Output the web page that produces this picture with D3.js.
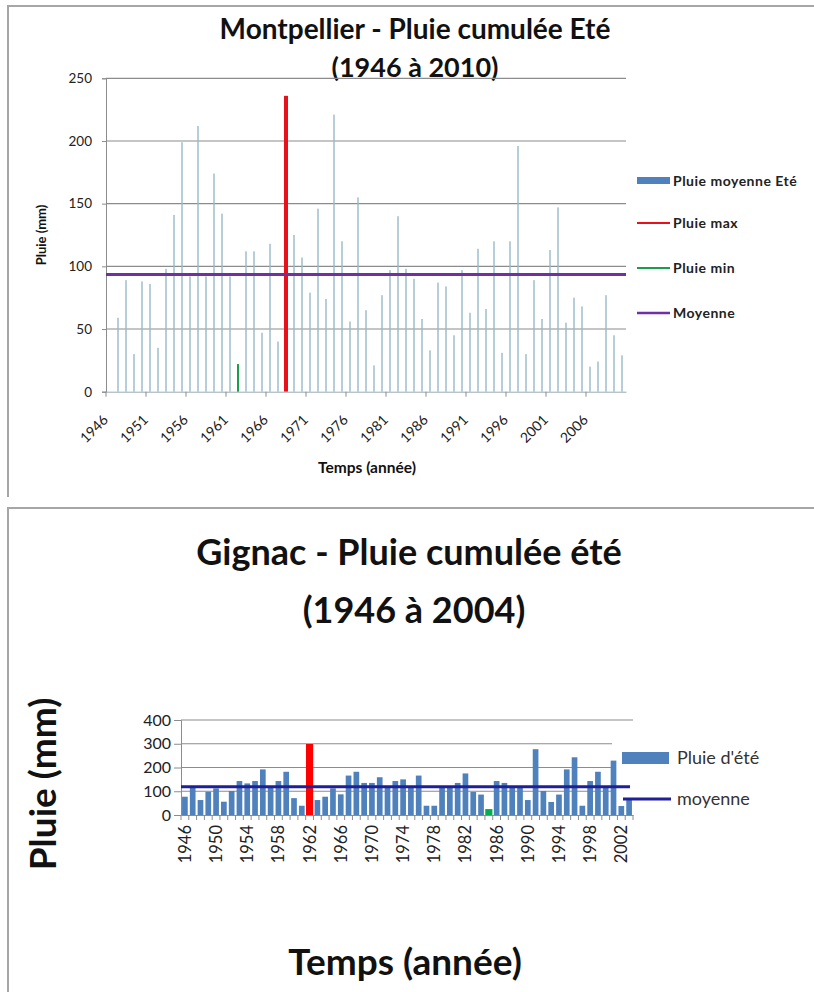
<!DOCTYPE html>
<html><head><meta charset="utf-8">
<script src="https://cdn.jsdelivr.net/npm/d3@7"></script>
<style>
html,body{margin:0;padding:0;background:#fff;}
svg{display:block;}
</style></head><body>
<svg id="chart" width="814" height="992"></svg>
<script>
// ---------- DATA ----------
const yearsTop = d3.range(1946, 2011);
const rainTop = [null,59,89,30,88,86,35,98,141,199,92,212,92,174,142,92,22,112,112,47,118,40,236,125,107,79,146,74,221,120,56,155,65,21,77,97,140,98,90,58,33,87,84,45,97,63,114,66,120,31,120,196,30,89,58,113,147,55,75,68,20,24,77,45,29];
const topMaxYears = [1968];
const topMaxValues = [236];
const topMinYears = [1962];
const topMinValues = [22];
const topMean = 93.5;
const topYTicks = [0, 50, 100, 150, 200, 250];
const topXLabelYears = [1946,1951,1956,1961,1966,1971,1976,1981,1986,1991,1996,2001,2006];
const topLegend = ["Pluie moyenne Eté", "Pluie max", "Pluie min", "Moyenne"];

const yearsGig = d3.range(1946, 2004);
const rainGig = [77,118,63,98,112,56,101,143,133,143,192,118,143,182,71,39,299,63,77,112,87,166,182,135,135,159,118,143,150,118,166,39,39,115,115,135,175,97,86,25,143,135,118,115,63,277,101,55,86,192,243,39,143,182,118,229,38,63];
const gigMean = 119;
const gigYTicks = [0, 100, 200, 300, 400];
const gigXLabelYears = [1946,1950,1954,1958,1962,1966,1970,1974,1978,1982,1986,1990,1994,1998,2002];
const gigLegend = ["Pluie d'été", "moyenne"];

// ---------- SETUP ----------
const FONT = "Lato, 'Open Sans', 'DejaVu Sans', sans-serif";
const svg = d3.select("#chart").style("font-family", FONT);
svg.append("rect").attr("width", 814).attr("height", 992).attr("fill", "#fff");

// frames
svg.append("path").attr("d", "M8,497 L8,6 L814,6").attr("fill", "none").attr("stroke", "#a6a6a6").attr("stroke-width", 2);
svg.append("path").attr("d", "M8,992 L8,508 L814,508").attr("fill", "none").attr("stroke", "#a6a6a6").attr("stroke-width", 2);

// ================= TOP CHART (Montpellier) =================
const tX0 = 106, tX1 = 626, tY0 = 391.7, tY1 = 78.3;
const xTop = d3.scaleBand().domain(yearsTop).range([tX0, tX1]).padding(0);
const yTop = d3.scaleLinear().domain([0, 250]).range([tY0, tY1]);

svg.append("text").attr("x", 415).attr("y", 39).attr("text-anchor", "middle")
  .attr("font-size", 28).attr("font-weight", "bold").attr("fill", "#111")
  .text("Montpellier - Pluie cumulée Eté");
svg.append("text").attr("x", 415).attr("y", 77).attr("text-anchor", "middle")
  .attr("font-size", 27).attr("font-weight", "bold").attr("fill", "#111")
  .text("(1946 à 2010)");

const gT = svg.append("g");
// gridlines
gT.selectAll("line.grid").data(topYTicks.filter(d => d > 0)).join("line")
  .attr("x1", tX0).attr("x2", tX1).attr("y1", d => yTop(d)).attr("y2", d => yTop(d))
  .attr("stroke", "#8c8c8c").attr("stroke-width", 1.2);

// y axis
const yAxT = gT.append("g").attr("transform", `translate(${tX0},0)`)
  .call(d3.axisLeft(yTop).tickValues(topYTicks).tickSize(4).tickPadding(10));
yAxT.select(".domain").attr("stroke", "#8c8c8c");
yAxT.selectAll(".tick line").attr("stroke", "#8c8c8c");
yAxT.selectAll("text").attr("font-size", 13.5).attr("font-family", FONT).attr("fill", "#222");

// bars
const topData = yearsTop.map((y, i) => ({year: y, v: rainTop[i]})).filter(d => d.v != null);
gT.selectAll("rect.bar").data(topData).join("rect")
  .attr("x", d => xTop(d.year) + xTop.bandwidth() / 2 - 0.7)
  .attr("width", 1.4)
  .attr("y", d => yTop(d.v)).attr("height", d => yTop(0) - yTop(d.v))
  .attr("fill", "#96bac6");

// max / min series
gT.selectAll("rect.max").data(topMaxYears.map((y, i) => ({year: y, v: topMaxValues[i]}))).join("rect")
  .attr("x", d => xTop(d.year) + xTop.bandwidth() / 2 - 2)
  .attr("width", 4)
  .attr("y", d => yTop(d.v)).attr("height", d => yTop(0) - yTop(d.v))
  .attr("fill", "#e8101a");
gT.selectAll("rect.min").data(topMinYears.map((y, i) => ({year: y, v: topMinValues[i]}))).join("rect")
  .attr("x", d => xTop(d.year) + xTop.bandwidth() / 2 - 1)
  .attr("width", 2)
  .attr("y", d => yTop(d.v)).attr("height", d => yTop(0) - yTop(d.v))
  .attr("fill", "#1a9e4c");

// mean line
gT.append("line").attr("x1", tX0).attr("x2", tX1)
  .attr("y1", yTop(topMean)).attr("y2", yTop(topMean))
  .attr("stroke", "#7030a0").attr("stroke-width", 3);

// x axis
const xAxT = gT.append("g").attr("transform", `translate(0,${tY0})`)
  .call(d3.axisBottom(xTop).tickValues(topXLabelYears).tickSize(0));
xAxT.select(".domain").attr("stroke", "#9aaab0");
xAxT.selectAll("text")
  .attr("font-size", 14).attr("font-family", FONT).attr("fill", "#222")
  .attr("x", 0).attr("y", 0).attr("dy", null)
  .attr("text-anchor", "end")
  .attr("transform", "translate(-1,29) rotate(-45)");
// boundary tick marks (every 5 categories)
gT.selectAll("line.xt").data(topXLabelYears).join("line")
  .attr("x1", d => xTop(d)).attr("x2", d => xTop(d))
  .attr("y1", tY0).attr("y2", tY0 + 5)
  .attr("stroke", "#8c8c8c");

// axis titles
svg.append("text").attr("transform", `translate(46,${(tY0 + tY1) / 2}) rotate(-90)`)
  .attr("text-anchor", "middle").attr("font-size", 13).attr("font-weight", "bold").attr("fill", "#111")
  .text("Pluie (mm)");
svg.append("text").attr("x", 367).attr("y", 473).attr("text-anchor", "middle")
  .attr("font-size", 15.5).attr("font-weight", "bold").attr("fill", "#111")
  .text("Temps (année)");

// legend
const legT = svg.append("g").attr("transform", "translate(637,0)");
const legTY = [181, 223, 268, 313];
const legTColors = ["#4f81bd", "#e8101a", "#1a9e4c", "#7030a0"];
topLegend.forEach((lab, i) => {
  if (i === 0) {
    legT.append("rect").attr("x", 0).attr("y", legTY[i] - 4).attr("width", 33).attr("height", 7).attr("fill", legTColors[i]);
  } else {
    legT.append("line").attr("x1", 0).attr("x2", 33).attr("y1", legTY[i]).attr("y2", legTY[i])
      .attr("stroke", legTColors[i]).attr("stroke-width", i === 3 ? 2.5 : 2);
  }
  legT.append("text").attr("x", 36).attr("y", legTY[i]).attr("dy", "0.35em")
    .attr("font-size", 14).attr("letter-spacing", 0.5).attr("font-weight", "bold").attr("fill", "#222").text(lab);
});

// ================= BOTTOM CHART (Gignac) =================
const gX0 = 181, gX1 = 633, gY0 = 815, gY1 = 720;
const xGig = d3.scaleBand().domain(yearsGig).range([gX0, gX1]).paddingInner(0.27).paddingOuter(0.135);
const yGig = d3.scaleLinear().domain([0, 400]).range([gY0, gY1]);

svg.append("text").attr("x", 409).attr("y", 565).attr("text-anchor", "middle")
  .attr("font-size", 36).attr("font-weight", "bold").attr("fill", "#111")
  .text("Gignac - Pluie cumulée été");
svg.append("text").attr("x", 414).attr("y", 623).attr("text-anchor", "middle")
  .attr("font-size", 36).attr("font-weight", "bold").attr("fill", "#111")
  .text("(1946 à 2004)");

const gG = svg.append("g");
gG.selectAll("line.grid").data(gigYTicks.filter(d => d > 0)).join("line")
  .attr("x1", gX0).attr("x2", gX1).attr("y1", d => yGig(d)).attr("y2", d => yGig(d))
  .attr("stroke", "#8c8c8c").attr("stroke-width", 1.2);

// legend background (covers gridlines)
gG.append("rect").attr("x", 612).attr("y", 730).attr("width", 200).attr("height", 83).attr("fill", "#fff");

const yAxG = gG.append("g").attr("transform", `translate(${gX0},0)`)
  .call(d3.axisLeft(yGig).tickValues(gigYTicks).tickSize(7).tickPadding(3));
yAxG.select(".domain").attr("stroke", "#8c8c8c");
yAxG.selectAll(".tick line").attr("stroke", "#8c8c8c");
yAxG.selectAll("text").attr("font-size", 16).attr("font-family", FONT).attr("fill", "#222");

const gigData = yearsGig.map((y, i) => ({year: y, v: rainGig[i]}));
const gMax = d3.max(rainGig), gMin = d3.min(rainGig);
const step = xGig.step();
gG.selectAll("rect.bar").data(gigData).join("rect")
  .attr("x", d => (d.v === gMax || d.v === gMin) ? xGig(d.year) + xGig.bandwidth() / 2 - step * 0.46 : xGig(d.year))
  .attr("width", d => (d.v === gMax || d.v === gMin) ? step * 0.92 : xGig.bandwidth())
  .attr("y", d => yGig(d.v)).attr("height", d => yGig(0) - yGig(d.v))
  .attr("fill", d => d.v === gMax ? "#ff0000" : d.v === gMin ? "#00b050" : "#4f81bd");

gG.append("line").attr("x1", gX0).attr("x2", gX1 - 3)
  .attr("y1", yGig(gigMean)).attr("y2", yGig(gigMean))
  .attr("stroke", "#1f1f99").attr("stroke-width", 3);

const xAxG = gG.append("g").attr("transform", `translate(0,${gY0})`)
  .call(d3.axisBottom(xGig).tickValues(gigXLabelYears).tickSize(0));
xAxG.select(".domain").attr("stroke", "#8c8c8c");
xAxG.selectAll("text")
  .attr("font-size", 16.5).attr("font-family", FONT).attr("fill", "#222")
  .attr("x", 0).attr("y", 0).attr("dy", null)
  .attr("text-anchor", "end")
  .attr("transform", "translate(6,10) rotate(-90)");
gG.selectAll("line.xt").data(yearsGig.concat([null])).join("line")
  .attr("x1", (d, i) => gX0 + (gX1 - gX0) * i / yearsGig.length)
  .attr("x2", (d, i) => gX0 + (gX1 - gX0) * i / yearsGig.length)
  .attr("y1", gY0).attr("y2", gY0 + 5)
  .attr("stroke", "#8c8c8c");

svg.append("text").attr("transform", `translate(56,784) rotate(-90)`)
  .attr("text-anchor", "middle").attr("font-size", 37).attr("font-weight", "bold").attr("fill", "#111")
  .text("Pluie (mm)");
svg.append("text").attr("x", 405).attr("y", 975).attr("text-anchor", "middle")
  .attr("font-size", 37).attr("font-weight", "bold").attr("fill", "#111")
  .text("Temps (année)");

const legG = svg.append("g").attr("transform", "translate(622,0)");
legG.append("rect").attr("x", 0).attr("y", 752).attr("width", 47).attr("height", 12).attr("fill", "#4f81bd");
legG.append("text").attr("x", 55).attr("y", 758).attr("dy", "0.35em").attr("font-size", 18).attr("fill", "#333").text(gigLegend[0]);
legG.append("line").attr("x1", 1).attr("x2", 49).attr("y1", 799).attr("y2", 799).attr("stroke", "#1f1f99").attr("stroke-width", 3);
legG.append("text").attr("x", 55).attr("y", 799).attr("dy", "0.35em").attr("font-size", 18).attr("fill", "#333").text(gigLegend[1]);
</script>
</body></html>
